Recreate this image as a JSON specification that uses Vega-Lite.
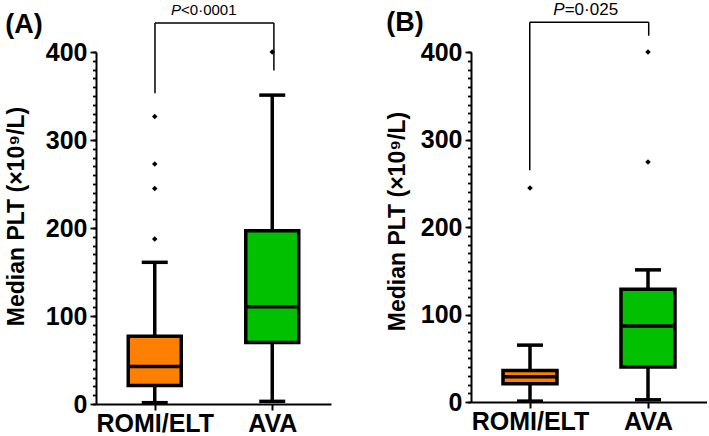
{
  "$schema": "https://vega.github.io/schema/vega-lite/v6.json",
  "padding": {"left": 5, "top": 0, "right": 0, "bottom": 0},
  "spacing": 55,
  "datasets": {
    "boxes": [
      {"panel": "A", "group": "ROMI/ELT", "lower": 1.5, "q1": 21, "median": 42.5, "q3": 77, "upper": 161},
      {"panel": "A", "group": "AVA", "lower": 3, "q1": 70, "median": 110.5, "q3": 197, "upper": 351},
      {"panel": "B", "group": "ROMI/ELT", "lower": 1, "q1": 21, "median": 29, "q3": 36, "upper": 65},
      {"panel": "B", "group": "AVA", "lower": 2.5, "q1": 40, "median": 87, "q3": 129, "upper": 151}
    ],
    "outliers": [
      {"panel": "A", "group": "ROMI/ELT", "value": 187.5},
      {"panel": "A", "group": "ROMI/ELT", "value": 245},
      {"panel": "A", "group": "ROMI/ELT", "value": 272.7},
      {"panel": "A", "group": "ROMI/ELT", "value": 326.6},
      {"panel": "A", "group": "AVA", "value": 400},
      {"panel": "B", "group": "ROMI/ELT", "value": 244.7},
      {"panel": "B", "group": "AVA", "value": 274.4},
      {"panel": "B", "group": "AVA", "value": 400}
    ],
    "brackets": [
      {"panel": "A", "x": 0.251, "x2": 0.251, "y": 353, "y2": 433},
      {"panel": "A", "x": 0.251, "x2": 0.757, "y": 433, "y2": 433},
      {"panel": "A", "x": 0.757, "x2": 0.757, "y": 379, "y2": 433},
      {"panel": "B", "x": 0.249, "x2": 0.249, "y": 265, "y2": 434},
      {"panel": "B", "x": 0.249, "x2": 0.753, "y": 434, "y2": 434},
      {"panel": "B", "x": 0.753, "x2": 0.753, "y": 418.6, "y2": 434}
    ],
    "ptext": [
      {"panel": "A", "part": "italic", "x": 0.362, "y": 448, "label": "P"},
      {"panel": "A", "part": "rest", "x": 0.362, "y": 448, "label": "<0·0001"},
      {"panel": "B", "part": "italic", "x": 0.397, "y": 448, "label": "P"},
      {"panel": "B", "part": "rest", "x": 0.397, "y": 448, "label": "=0·025"}
    ]
  },
  "config": {
    "view": {"stroke": null},
    "font": "Liberation Sans",
    "axis": {
      "domainColor": "black",
      "domainWidth": 2,
      "tickColor": "black",
      "tickWidth": 1.8,
      "labelColor": "black",
      "titleColor": "black",
      "labelFont": "Liberation Sans",
      "titleFont": "Liberation Sans",
      "labelFontWeight": "bold",
      "titleFontWeight": "bold",
      "grid": false
    },
    "title": {"font": "Liberation Sans", "fontWeight": "bold", "fontSize": 27, "color": "black"}
  },
  "hconcat": [
    {
      "width": 235,
      "height": 352,
      "title": {"text": "(A)", "anchor": "start", "frame": "bounds", "offset": -36},
      "layer": [
        {
          "layer": [
            {
              "data": {"name": "boxes"},
              "transform": [{"filter": "datum.panel === 'A'"}],
              "mark": {"type": "rule", "color": "black", "strokeWidth": 3.5},
              "encoding": {
                "x": {"field": "group", "type": "nominal", "sort": ["ROMI/ELT", "AVA"],
                      "scale": {"type": "point", "domain": ["ROMI/ELT", "AVA"], "padding": 0.5},
                      "axis": {"title": null, "labelAngle": 0, "labelFontSize": 25, "tickSize": 6, "tickWidth": 2, "labelPadding": 1}},
                "y": {"field": "lower", "type": "quantitative", "title": "Median PLT (×10⁹/L)",
                      "scale": {"domain": [0, 400], "nice": false},
                      "axis": {
                        "values": [0, 100, 200, 300, 400],
                        "tickCount": 10,
                        "labelFontSize": 25,
                        "labelPadding": 3,
                        "tickSize": 6,
                        "titleFontSize": 23,
                        "titlePadding": 17,
                        "titleY": 164
                      }},
                "y2": {"field": "upper"}
              }
            },
            {
              "data": {"name": "boxes"},
              "transform": [{"filter": "datum.panel === 'A'"}],
              "mark": {"type": "bar", "width": 53, "stroke": "black", "strokeWidth": 3.5},
              "encoding": {
                "x": {"field": "group", "type": "nominal"},
                "y": {"field": "q1", "type": "quantitative", "title": "Median PLT (×10⁹/L)"},
                "y2": {"field": "q3"},
                "color": {"field": "group", "type": "nominal", "scale": {"domain": ["ROMI/ELT", "AVA"], "range": ["#FF8000", "#00C000"]}, "legend": null}
              }
            },
            {
              "data": {"name": "boxes"},
              "transform": [{"filter": "datum.panel === 'A'"}],
              "mark": {"type": "tick", "color": "black", "size": 54, "thickness": 3.5, "opacity": 1},
              "encoding": {
                "x": {"field": "group", "type": "nominal"},
                "y": {"field": "median", "type": "quantitative", "title": "Median PLT (×10⁹/L)"}
              }
            },
            {
              "data": {"name": "boxes"},
              "transform": [{"filter": "datum.panel === 'A'"}],
              "mark": {"type": "tick", "color": "black", "size": 26, "thickness": 3.5, "opacity": 1},
              "encoding": {
                "x": {"field": "group", "type": "nominal"},
                "y": {"field": "lower", "type": "quantitative", "title": "Median PLT (×10⁹/L)"}
              }
            },
            {
              "data": {"name": "boxes"},
              "transform": [{"filter": "datum.panel === 'A'"}],
              "mark": {"type": "tick", "color": "black", "size": 26, "thickness": 3.5, "opacity": 1},
              "encoding": {
                "x": {"field": "group", "type": "nominal"},
                "y": {"field": "upper", "type": "quantitative", "title": "Median PLT (×10⁹/L)"}
              }
            },
            {
              "data": {"name": "outliers"},
              "transform": [{"filter": "datum.panel === 'A'"}],
              "mark": {"type": "point", "shape": "diamond", "filled": true, "color": "black", "size": 30, "opacity": 1},
              "encoding": {
                "x": {"field": "group", "type": "nominal"},
                "y": {"field": "value", "type": "quantitative", "title": "Median PLT (×10⁹/L)"}
              }
            }
          ]
        },
        {
          "layer": [
            {
              "data": {"name": "brackets"},
              "transform": [{"filter": "datum.panel === 'A'"}],
              "mark": {"type": "rule", "color": "black", "strokeWidth": 1.5},
              "encoding": {
                "x": {"field": "x", "type": "quantitative", "scale": {"domain": [0, 1], "nice": false, "zero": false}, "axis": null},
                "x2": {"field": "x2"},
                "y": {"field": "y", "type": "quantitative",
                      "axis": {"orient": "left", "title": null, "labels": false, "domain": false, "tickSize": 3.5, "tickWidth": 1.8, "tickCount": 100,
                               "values": [0,10,20,30,40,50,60,70,80,90,100,110,120,130,140,150,160,170,180,190,200,210,220,230,240,250,260,270,280,290,300,310,320,330,340,350,360,370,380,390,400]}},
                "y2": {"field": "y2"}
              }
            },
            {
              "data": {"name": "ptext"},
              "transform": [{"filter": "datum.panel === 'A' && datum.part === 'italic'"}],
              "mark": {"type": "text", "fontSize": 15, "fontStyle": "italic", "align": "right", "baseline": "middle", "color": "black"},
              "encoding": {
                "x": {"field": "x", "type": "quantitative"},
                "y": {"field": "y", "type": "quantitative"},
                "text": {"field": "label"}
              }
            },
            {
              "data": {"name": "ptext"},
              "transform": [{"filter": "datum.panel === 'A' && datum.part === 'rest'"}],
              "mark": {"type": "text", "fontSize": 15, "align": "left", "baseline": "middle", "color": "black"},
              "encoding": {
                "x": {"field": "x", "type": "quantitative"},
                "y": {"field": "y", "type": "quantitative"},
                "text": {"field": "label"}
              }
            }
          ]
        }
      ],
      "resolve": {"scale": {"x": "independent"}, "axis": {"x": "independent", "y": "independent"}}
    },
    {
      "width": 236,
      "height": 350,
      "title": {"text": "(B)", "anchor": "start", "frame": "bounds", "offset": -36},
      "layer": [
        {
          "layer": [
            {
              "data": {"name": "boxes"},
              "transform": [{"filter": "datum.panel === 'B'"}],
              "mark": {"type": "rule", "color": "black", "strokeWidth": 3.5},
              "encoding": {
                "x": {"field": "group", "type": "nominal", "sort": ["ROMI/ELT", "AVA"],
                      "scale": {"type": "point", "domain": ["ROMI/ELT", "AVA"], "padding": 0.5},
                      "axis": {"title": null, "labelAngle": 0, "labelFontSize": 25, "tickSize": 6, "tickWidth": 2, "labelPadding": 1}},
                "y": {"field": "lower", "type": "quantitative", "title": "Median PLT (×10⁹/L)",
                      "scale": {"domain": [0, 400], "nice": false},
                      "axis": {
                        "values": [0, 100, 200, 300, 400],
                        "tickCount": 10,
                        "labelFontSize": 25,
                        "labelPadding": 3,
                        "tickSize": 6,
                        "titleFontSize": 23,
                        "titlePadding": 11,
                        "titleY": 169
                      }},
                "y2": {"field": "upper"}
              }
            },
            {
              "data": {"name": "boxes"},
              "transform": [{"filter": "datum.panel === 'B'"}],
              "mark": {"type": "bar", "width": 54, "stroke": "black", "strokeWidth": 3.5},
              "encoding": {
                "x": {"field": "group", "type": "nominal"},
                "y": {"field": "q1", "type": "quantitative", "title": "Median PLT (×10⁹/L)"},
                "y2": {"field": "q3"},
                "color": {"field": "group", "type": "nominal", "scale": {"domain": ["ROMI/ELT", "AVA"], "range": ["#FF8000", "#00C000"]}, "legend": null}
              }
            },
            {
              "data": {"name": "boxes"},
              "transform": [{"filter": "datum.panel === 'B'"}],
              "mark": {"type": "tick", "color": "black", "size": 55, "thickness": 3.5, "opacity": 1},
              "encoding": {
                "x": {"field": "group", "type": "nominal"},
                "y": {"field": "median", "type": "quantitative", "title": "Median PLT (×10⁹/L)"}
              }
            },
            {
              "data": {"name": "boxes"},
              "transform": [{"filter": "datum.panel === 'B'"}],
              "mark": {"type": "tick", "color": "black", "size": 26, "thickness": 3.5, "opacity": 1},
              "encoding": {
                "x": {"field": "group", "type": "nominal"},
                "y": {"field": "lower", "type": "quantitative", "title": "Median PLT (×10⁹/L)"}
              }
            },
            {
              "data": {"name": "boxes"},
              "transform": [{"filter": "datum.panel === 'B'"}],
              "mark": {"type": "tick", "color": "black", "size": 26, "thickness": 3.5, "opacity": 1},
              "encoding": {
                "x": {"field": "group", "type": "nominal"},
                "y": {"field": "upper", "type": "quantitative", "title": "Median PLT (×10⁹/L)"}
              }
            },
            {
              "data": {"name": "outliers"},
              "transform": [{"filter": "datum.panel === 'B'"}],
              "mark": {"type": "point", "shape": "diamond", "filled": true, "color": "black", "size": 30, "opacity": 1},
              "encoding": {
                "x": {"field": "group", "type": "nominal"},
                "y": {"field": "value", "type": "quantitative", "title": "Median PLT (×10⁹/L)"}
              }
            }
          ]
        },
        {
          "layer": [
            {
              "data": {"name": "brackets"},
              "transform": [{"filter": "datum.panel === 'B'"}],
              "mark": {"type": "rule", "color": "black", "strokeWidth": 1.5},
              "encoding": {
                "x": {"field": "x", "type": "quantitative", "scale": {"domain": [0, 1], "nice": false, "zero": false}, "axis": null},
                "x2": {"field": "x2"},
                "y": {"field": "y", "type": "quantitative",
                      "axis": {"orient": "left", "title": null, "labels": false, "domain": false, "tickSize": 3.5, "tickWidth": 1.8, "tickCount": 100,
                               "values": [0,10,20,30,40,50,60,70,80,90,100,110,120,130,140,150,160,170,180,190,200,210,220,230,240,250,260,270,280,290,300,310,320,330,340,350,360,370,380,390,400]}},
                "y2": {"field": "y2"}
              }
            },
            {
              "data": {"name": "ptext"},
              "transform": [{"filter": "datum.panel === 'B' && datum.part === 'italic'"}],
              "mark": {"type": "text", "fontSize": 17, "fontStyle": "italic", "align": "right", "baseline": "middle", "color": "black"},
              "encoding": {
                "x": {"field": "x", "type": "quantitative"},
                "y": {"field": "y", "type": "quantitative"},
                "text": {"field": "label"}
              }
            },
            {
              "data": {"name": "ptext"},
              "transform": [{"filter": "datum.panel === 'B' && datum.part === 'rest'"}],
              "mark": {"type": "text", "fontSize": 17, "align": "left", "baseline": "middle", "color": "black"},
              "encoding": {
                "x": {"field": "x", "type": "quantitative"},
                "y": {"field": "y", "type": "quantitative"},
                "text": {"field": "label"}
              }
            }
          ]
        }
      ],
      "resolve": {"scale": {"x": "independent"}, "axis": {"x": "independent", "y": "independent"}}
    }
  ]
}
